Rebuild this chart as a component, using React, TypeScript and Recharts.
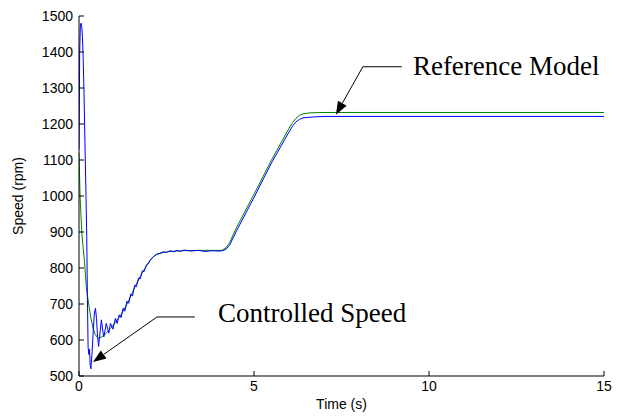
import React from 'react';
import {
  LineChart,
  Line,
  XAxis,
  YAxis,
  ReferenceLine,
  ReferenceDot,
} from 'recharts';

// controlled speed (blue)
const timeCtrl = [
  0, 0.02, 0.04, 0.06, 0.08, 0.1, 0.12, 0.14, 0.16, 0.18, 0.2, 0.22, 0.24, 0.26, 0.28, 0.3,
  0.32, 0.34, 0.37, 0.41, 0.44, 0.47, 0.5, 0.53, 0.56, 0.6, 0.64, 0.68, 0.71, 0.78, 0.85,
  0.9, 0.97, 1.04, 1.09, 1.15, 1.2, 1.26, 1.31, 1.37, 1.42, 1.48, 1.53, 1.59, 1.64, 1.7,
  1.75, 1.81, 1.86, 1.92, 1.98, 2.05, 2.12, 2.2, 2.3, 2.4, 2.5, 2.6, 2.7,
  2.8, 2.9, 3.0, 3.2, 3.4, 3.6, 3.8, 4.0, 4.1, 4.2, 4.3, 4.5, 5.0, 5.5, 6.0, 6.1, 6.2, 6.3,
  6.4, 6.6, 7.0, 10, 15,
];
const speedCtrl = [
  1130, 1400, 1475, 1480, 1470, 1440, 1380, 1300, 1200, 1100, 1000, 900, 720, 580, 560, 575,
  530, 520, 560, 630, 675, 688, 660, 610, 582, 620, 656, 625, 609, 646, 619,
  646, 630, 660, 646, 670, 662, 688, 680, 708, 702, 728, 722, 752, 748, 772,
  770, 792, 790, 808, 812, 824, 830, 838, 840, 845, 843, 848, 845,
  849, 846, 850, 847, 849, 846, 848, 847, 848, 852, 863, 903, 996, 1092, 1178, 1194, 1206, 1213,
  1217, 1219, 1221, 1221, 1221,
];

// reference model output (green)
const timeRef = [
  0, 0.03, 0.08, 0.12, 0.16, 0.21, 0.27, 0.31, 0.35, 0.41, 0.46, 0.54, 0.6, 0.7, 0.79, 0.9,
  1.0, 1.2, 1.4, 1.6, 1.8, 1.93, 2.02, 2.12, 2.25, 2.41, 2.6, 2.95, 3.5, 4.08, 4.2,
  4.3, 4.5, 5.0, 5.5, 6.0, 6.1, 6.2, 6.3, 6.4, 6.6, 7.0, 10, 15,
];
const speedRef = [
  1120, 1000, 897, 855, 815, 745, 705, 678, 656, 630, 616, 605, 606, 612, 620, 632,
  645, 670, 705, 748, 786, 806, 820, 831, 839, 843, 846, 848, 849, 849, 856,
  870, 912, 1005, 1100, 1188, 1204, 1216, 1224, 1228, 1231, 1232, 1232, 1232,
];

const xTicks = [0, 5, 10, 15];
const yTicks = [500, 600, 700, 800, 900, 1000, 1100, 1200, 1300, 1400, 1500];

const ctrlData = timeCtrl.map((t, i) => ({ t, v: speedCtrl[i] }));
const refData = timeRef.map((t, i) => ({ t, v: speedRef[i] }));

const sans = "'Liberation Sans', Arial, sans-serif";
const serif = "'Liberation Serif', 'Times New Roman', serif";

function BottomTick(props: any) {
  const { x, y, payload } = props;
  return (
    <g>
      <line x1={x} y1={y} x2={x} y2={y - 5} stroke="#000" />
      <text x={x} y={y + 15} textAnchor="middle" fontSize={14} fontFamily={sans} fill="#000">
        {payload.value}
      </text>
    </g>
  );
}

function LeftTick(props: any) {
  const { x, y, payload } = props;
  return (
    <g>
      <line x1={x} y1={y} x2={x + 5} y2={y} stroke="#000" />
      <text x={x - 6} y={y} dy="0.35em" textAnchor="end" fontSize={14} fontFamily={sans} fill="#000">
        {payload.value}
      </text>
    </g>
  );
}

function TopTick(props: any) {
  const { x, y } = props;
  return <line x1={x} y1={y} x2={x} y2={y + 5} stroke="#000" />;
}

function RightTick(props: any) {
  const { x, y } = props;
  return <line x1={x} y1={y} x2={x - 5} y2={y} stroke="#000" />;
}

function ArrowSeg(props: any) {
  const { x1, y1, x2, y2 } = props;
  const dx = x2 - x1;
  const dy = y2 - y1;
  const len = Math.sqrt(dx * dx + dy * dy) || 1;
  const ux = dx / len;
  const uy = dy / len;
  const hl = 13;
  const hw = 5;
  const bx = x2 - ux * hl;
  const by = y2 - uy * hl;
  const pts = `${x2},${y2} ${bx - uy * hw},${by + ux * hw} ${bx + uy * hw},${by - ux * hw}`;
  return (
    <g>
      <line x1={x1} y1={y1} x2={bx} y2={by} stroke="#000" strokeWidth={1} />
      <polygon points={pts} fill="#000" />
    </g>
  );
}

function PlainSeg(props: any) {
  const { x1, y1, x2, y2 } = props;
  return <line x1={x1} y1={y1} x2={x2} y2={y2} stroke="#000" strokeWidth={1} />;
}

const noteText = (label: string) => (props: any) => (
  <text x={props.cx} y={props.cy} fontSize={27} fontFamily={serif} fill="#000">
    {label}
  </text>
);

export default function App() {
  return (
    <div style={{ position: 'absolute', left: 0, top: 0, background: '#fff' }}>
      <LineChart
        width={632}
        height={418}
        margin={{ top: 16, right: 28, bottom: 12, left: 19 }}
      >
        <XAxis
          xAxisId="b"
          dataKey="t"
          type="number"
          domain={[0, 15]}
          ticks={xTicks}
          tickSize={0}
          tickMargin={0}
          tickLine={false}
          tick={<BottomTick />}
          axisLine={{ stroke: '#000' }}
          height={30}
          allowDataOverflow
          label={{
            content: (p: any) => {
              const vb = p.viewBox;
              return (
                <text x={vb.x + vb.width / 2} y={vb.y + vb.height + 3} textAnchor="middle" fontSize={14} fontFamily={sans} fill="#000">
                  Time (s)
                </text>
              );
            },
          }}
        />
        <XAxis
          xAxisId="top"
          orientation="top"
          type="number"
          domain={[0, 15]}
          ticks={xTicks}
          tickSize={0}
          tickMargin={0}
          tickLine={false}
          tick={<TopTick />}
          axisLine={{ stroke: '#000' }}
          height={0}
        />
        <YAxis
          yAxisId="l"
          type="number"
          domain={[500, 1500]}
          ticks={yTicks}
          tickSize={0}
          tickMargin={0}
          tickLine={false}
          tick={<LeftTick />}
          axisLine={{ stroke: '#000' }}
          width={60}
          allowDataOverflow
          label={{
            content: (p: any) => {
              const vb = p.viewBox;
              const cx = vb.x - 1;
              const cy = vb.y + vb.height / 2;
              return (
                <text x={cx} y={cy} dy="0.35em" textAnchor="middle" fontSize={14} fontFamily={sans} fill="#000" transform={`rotate(-90, ${cx}, ${cy})`}>
                  Speed (rpm)
                </text>
              );
            },
          }}
        />
        <YAxis
          yAxisId="r"
          orientation="right"
          type="number"
          domain={[500, 1500]}
          ticks={yTicks}
          tickSize={0}
          tickMargin={0}
          tickLine={false}
          tick={<RightTick />}
          axisLine={{ stroke: '#000' }}
          width={0}
        />
        <Line
          xAxisId="b"
          yAxisId="l"
          data={refData}
          dataKey="v"
          type="linear"
          stroke="#008000"
          strokeWidth={1}
          dot={false}
          isAnimationActive={false}
        />
        <Line
          xAxisId="b"
          yAxisId="l"
          data={ctrlData}
          dataKey="v"
          type="linear"
          stroke="#0000ff"
          strokeWidth={1}
          dot={false}
          isAnimationActive={false}
        />
        {/* Reference Model annotation */}
        <ReferenceLine xAxisId="b" yAxisId="l" segment={[{ x: 9.22, y: 1359 }, { x: 8.11, y: 1359 }]} shape={PlainSeg} />
        <ReferenceLine xAxisId="b" yAxisId="l" segment={[{ x: 8.11, y: 1359 }, { x: 7.34, y: 1226 }]} shape={ArrowSeg} />
        <ReferenceDot xAxisId="b" yAxisId="l" x={9.54} y={1336} r={0} shape={noteText('Reference Model')} />
        {/* Controlled Speed annotation */}
        <ReferenceLine xAxisId="b" yAxisId="l" segment={[{ x: 3.31, y: 664 }, { x: 2.23, y: 664 }]} shape={PlainSeg} />
        <ReferenceLine xAxisId="b" yAxisId="l" segment={[{ x: 2.23, y: 664 }, { x: 0.4, y: 539 }]} shape={ArrowSeg} />
        <ReferenceDot xAxisId="b" yAxisId="l" x={3.97} y={650} r={0} shape={noteText('Controlled Speed')} />
      </LineChart>
    </div>
  );
}
